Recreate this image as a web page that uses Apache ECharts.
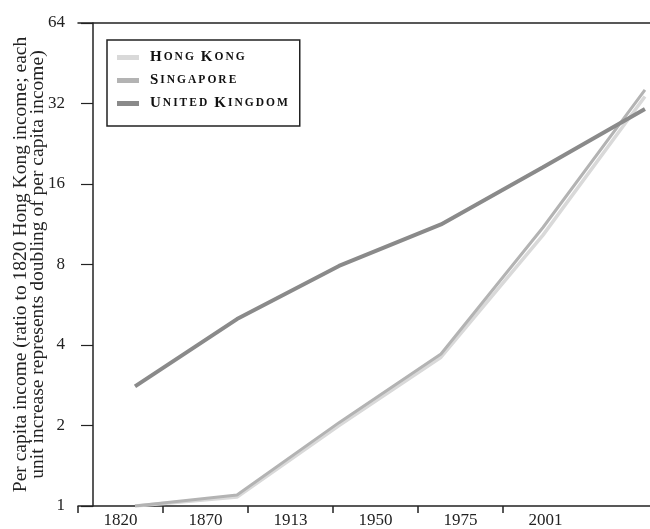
<!DOCTYPE html>
<html>
<head>
<meta charset="utf-8">
<title>Per capita income</title>
<script src="https://cdn.jsdelivr.net/npm/echarts@6/dist/echarts.min.js"></script>
<style>
  html, body { margin: 0; padding: 0; background: #fff; overflow: hidden; }
  /* plot runs past the right edge of the window, like the cropped original */
  #chart { width: 673px; height: 529px; }
</style>
</head>
<body>
<div id="chart"></div>
<script>
// axis labels along the bottom
const yearLabels = ["1820", "1870", "1913", "1950", "1975", "2001", ""];
// periods the series are sampled at
const periods = ["1820", "1870", "1913", "1950", "1973", "2008"];
// values (ratio to 1820 Hong Kong income)
const hongKong = [1.0, 1.08, 2.0, 3.6, 10.3, 34];
const singapore = [1.0, 1.1, 2.05, 3.7, 11.0, 36];
const unitedKingdom = [2.8, 5.0, 7.9, 11.3, 18.5, 30.5];
const yTicks = [1, 2, 4, 8, 16, 32, 64];

const serif = "'Liberation Serif', 'DejaVu Serif', serif";

// fake small caps with rich text
function smallCaps(s) {
  let out = "{s|}";
  for (const ch of s) {
    if (ch === " ") out += "{w| }";
    else if (ch === ch.toUpperCase()) out += "{a|" + ch + "}";
    else out += "{b|" + ch.toUpperCase() + "}";
  }
  return out;
}

function pts(vals) {
  return vals.map((v, i) => [i, v]);
}

const chart = echarts.init(document.getElementById("chart"));
chart.setOption({
  animation: false,
  backgroundColor: "#fff",
  grid: { left: 78, right: 0, top: 23, bottom: 23, containLabel: false, outerBoundsMode: "none" },
  legend: {
    orient: "vertical",
    left: 107,
    top: 40,
    padding: [10, 12, 15, 10],
    borderColor: "#222",
    borderWidth: 1.5,
    icon: "rect",
    itemWidth: 22,
    itemHeight: 5,
    itemGap: 8,
    data: ["Hong Kong", "Singapore", "United Kingdom"],
    formatter: smallCaps,
    textStyle: {
      color: "#111",
      rich: {
        s: { width: 6 },
        w: { fontFamily: serif, fontSize: 12, padding: [0, 2, 0, 0] },
        a: { fontFamily: serif, fontSize: 15, fontWeight: "bold", color: "#111", padding: [0, 2, 0, 0] },
        b: { fontFamily: serif, fontSize: 11.5, fontWeight: "bold", color: "#111", padding: [0, 2, 0, 0] }
      }
    }
  },
  xAxis: [
    {
      type: "category",
      data: yearLabels,
      boundaryGap: true,
      position: "bottom",
      axisLine: { onZero: false, lineStyle: { color: "#222", width: 1.5 } },
      axisTick: {
        show: true,
        interval: (i, v) => v !== "",
        length: 7,
        lineStyle: { color: "#222", width: 1.5 }
      },
      axisLabel: { margin: 6, color: "#222", fontFamily: serif, fontSize: 17 }
    },
    {
      type: "category",
      data: yearLabels,
      position: "top",
      axisLine: { onZero: false, lineStyle: { color: "#222", width: 1.5 } },
      axisTick: { show: false },
      axisLabel: { show: false }
    },
    {
      type: "value",
      show: false,
      min: -0.559,
      max: 5.275
    }
  ],
  yAxis: {
    type: "log",
    logBase: 2,
    min: 1,
    max: 64,
    offset: -15,
    axisLine: { show: true, onZero: false, lineStyle: { color: "#222", width: 1.5 } },
    axisTick: { show: true, length: 12, lineStyle: { color: "#222", width: 1.2 } },
    axisLabel: {
      margin: 28,
      color: "#222",
      fontFamily: serif,
      fontSize: 17,
      formatter: (v) => (yTicks.includes(Math.round(v)) ? String(Math.round(v)) : "")
    },
    splitLine: { show: false },
    name: "Per capita income (ratio to 1820 Hong Kong income; each\nunit increase represents doubling of per capita income)",
    nameLocation: "middle",
    nameGap: 47,
    nameMoveOverlap: false,
    nameTextStyle: { color: "#222", fontFamily: serif, fontSize: 19.5, lineHeight: 16.5 }
  },
  series: [
    {
      name: "Hong Kong",
      type: "line",
      xAxisIndex: 2,
      data: pts(hongKong),
      showSymbol: false,
      lineStyle: { color: "#d9d9d9", width: 3.5 },
      itemStyle: { color: "#d9d9d9" },
      z: 1
    },
    {
      name: "Singapore",
      type: "line",
      xAxisIndex: 2,
      data: pts(singapore),
      showSymbol: false,
      lineStyle: { color: "#b3b3b3", width: 3 },
      itemStyle: { color: "#b3b3b3" },
      z: 2
    },
    {
      name: "United Kingdom",
      type: "line",
      xAxisIndex: 2,
      data: pts(unitedKingdom),
      showSymbol: false,
      lineStyle: { color: "#8a8a8a", width: 4 },
      itemStyle: { color: "#8a8a8a" },
      z: 3
    }
  ]
});
</script>
</body>
</html>
